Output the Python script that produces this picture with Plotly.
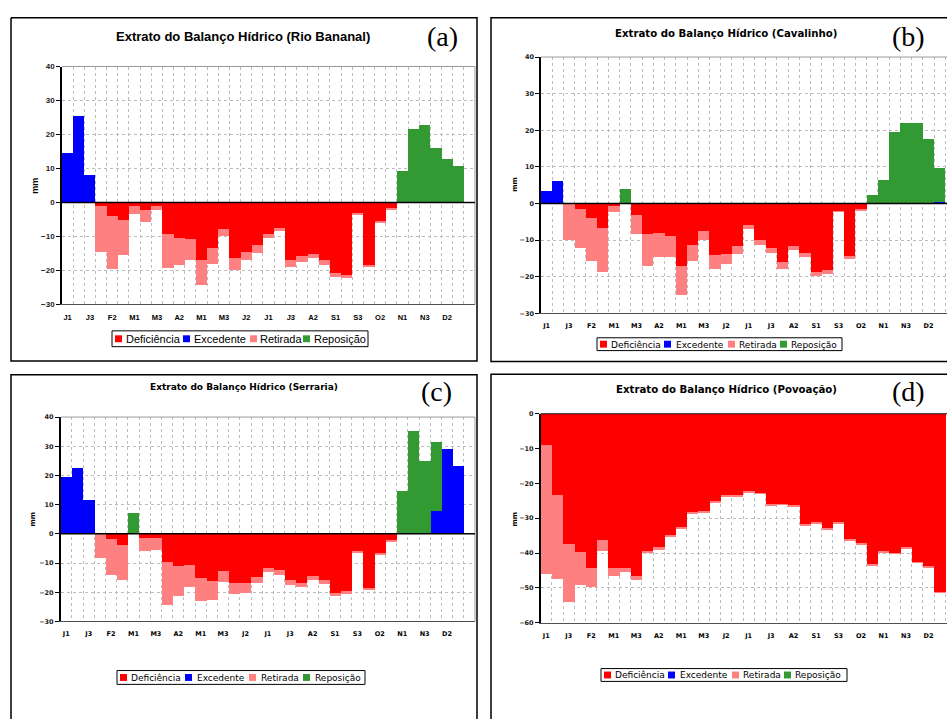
import plotly.graph_objects as go

W, H = 947, 719

# ---------------- data ----------------
categories = ["J1", "J2", "J3", "F1", "F2", "F3", "M1", "M2", "M3", "A1", "A2", "A3",
              "M1", "M2", "M3", "J1", "J2", "J3", "J1", "J2", "J3", "A1", "A2", "A3",
              "S1", "S2", "S3", "O1", "O2", "O3", "N1", "N2", "N3", "D1", "D2", "D3"]
tick_labels = ["J1", "J3", "F2", "M1", "M3", "A2", "M1", "M3", "J2",
               "J1", "J3", "A2", "S1", "S3", "O2", "N1", "N3", "D2"]
series_names = ["Deficiência", "Excedente", "Retirada", "Reposição"]

# (a) Rio Bananal
def_a = [0, 0, 0, -0.8, -3.9, -4.9, -0.8, -2.1, -0.8, -9.0, -10.2, -10.7,
         -16.8, -13.3, -7.7, -16.1, -14.3, -12.3, -9.1, -7.4, -16.8, -15.7, -15.0, -16.9,
         -20.6, -21.2, -3.0, -18.2, -5.3, -1.6, 0, 0, 0, 0, 0, 0]
exc_a = [14.6, 25.5, 8.3, 0, 0, 0, 0, 0, 0, 0, 0, 0,
         0, 0, 0, 0, 0, 0, 0, 0, 0, 0, 0, 0,
         0, 0, 0, 0, 0, 0, 0, 0, 0, 0, 0, 0]
ret_a = [0, 0, 0, -13.7, -15.4, -10.3, -2.4, -3.5, -1.3, -10.1, -8.1, -6.0,
         -7.3, -4.6, -2.1, -3.5, -2.6, -2.3, -1.3, -0.9, -1.9, -1.7, -1.2, -1.2,
         -1.1, -0.8, -0.5, -0.6, -0.5, -0.4, 0, 0, 0, 0, 0, 0]
rep_a = [0, 0, 0, 0, 0, 0, 0, 0, 0, 0, 0, 0,
         0, 0, 0, 0, 0, 0, 0, 0, 0, 0, 0, 0,
         0, 0, 0, 0, 0, 0, 9.4, 21.9, 22.9, 16.2, 13.0, 11.0]

# (b) Cavalinho
def_b = [0, 0, 0, -1.5, -3.9, -6.7, -0.6, 0, -3.2, -8.2, -8.1, -9.0,
         -17.0, -11.4, -7.5, -14.2, -13.7, -11.6, -5.8, -10.0, -12.1, -16.1, -11.6, -13.5,
         -18.6, -18.2, -2.1, -14.3, -1.5, 0, 0, 0, 0, 0, 0, 0]
exc_b = [3.4, 6.2, 0, 0, 0, 0, 0, 0, 0, 0, 0, 0,
         0, 0, 0, 0, 0, 0, 0, 0, 0, 0, 0, 0,
         0, 0, 0, 0, 0, 0, 0, 0, 0, 0, 0, 0.5]
ret_b = [0, 0, -9.9, -10.6, -11.9, -12.0, -1.7, 0, -5.2, -9.0, -6.5, -5.6,
         -8.0, -4.2, -2.5, -3.7, -2.7, -2.1, -1.2, -1.2, -1.5, -1.8, -1.2, -1.1,
         -1.3, -1.1, -0.2, -0.8, -0.6, 0, 0, 0, 0, 0, 0, 0]
rep_b = [0, 0, 0, 0, 0, 0, 0, 4.0, 0, 0, 0, 0,
         0, 0, 0, 0, 0, 0, 0, 0, 0, 0, 0, 0,
         0, 0, 0, 0, 0, 2.3, 6.4, 19.4, 21.9, 21.9, 17.6, 9.1]

# (c) Serraria
def_c = [0, 0, 0, 0, -1.9, -3.8, 0, -1.4, -1.4, -9.5, -11.0, -10.8,
         -15.2, -16.2, -12.6, -16.8, -17.0, -14.7, -11.6, -12.5, -15.7, -16.8, -14.5, -15.9,
         -20.3, -19.6, -6.1, -18.4, -6.9, -2.4, 0, 0, 0, 0, 0, 0]
exc_c = [19.3, 22.7, 11.5, 0, 0, 0, 0, 0, 0, 0, 0, 0,
         0, 0, 0, 0, 0, 0, 0, 0, 0, 0, 0, 0,
         0, 0, 0, 0, 0, 0, 0, 0, 0, 7.8, 28.9, 23.2]
ret_c = [0, 0, 0, -8.2, -12.2, -12.0, 0, -4.5, -4.0, -15.0, -10.4, -7.5,
         -7.8, -6.3, -4.0, -3.9, -3.4, -2.1, -1.6, -1.7, -1.7, -1.4, -1.2, -1.3,
         -1.1, -0.9, -0.4, -0.8, -0.4, -0.2, 0, 0, 0, 0, 0, 0]
rep_c = [0, 0, 0, 0, 0, 0, 7.0, 0, 0, 0, 0, 0,
         0, 0, 0, 0, 0, 0, 0, 0, 0, 0, 0, 0,
         0, 0, 0, 0, 0, 0, 14.8, 35.2, 25.0, 23.7, 0, 0]

# (d) Povoação
def_d = [-8.8, -23.1, -37.2, -39.5, -44.0, -36.1, -44.0, -44.0, -46.5, -39.2, -38.4, -34.9,
         -32.5, -28.3, -27.8, -25.2, -23.4, -23.4, -22.3, -22.7, -26.0, -25.8, -26.3, -31.8,
         -31.1, -32.9, -31.1, -36.1, -37.1, -43.2, -39.5, -39.9, -38.3, -42.5, -43.7, -51.1]
exc_d = [0] * 36
ret_d = [-37.0, -24.2, -16.8, -9.4, -5.6, -3.1, -2.3, -1.4, -1.2, -0.7, -0.5, -0.4,
         -0.3, -0.4, -0.4, -0.4, -0.5, -0.4, -0.2, -0.2, -0.2, -0.2, -0.3, -0.3,
         -0.2, -0.2, -0.2, -0.2, -0.2, -0.2, -0.2, -0.2, -0.2, -0.15, -0.2, -0.2]
rep_d = [0] * 36

titles = ["Extrato do Balanço Hídrico (Rio Bananal)",
          "Extrato do Balanço Hídrico (Cavalinho)",
          "Extrato do Balanço Hídrico (Serraria)",
          "Extrato do Balanço Hídrico (Povoação)"]
panel_tags = ["(a)", "(b)", "(c)", "(d)"]

# ---------------- styling ----------------
colors = ["#FF0000", "#0000FF", "#FF8080", "#339933"]
ARIAL = "Liberation Sans, Arial, sans-serif"
WIDE = "DejaVu Sans, Verdana, sans-serif"
SERIF = "Liberation Serif, Times New Roman, serif"
GRID = "#bdbdbd"


def px(v):
    return v / W


def py(v):
    return 1 - v / H


panels = [
    dict(data=(def_a, exc_a, ret_a, rep_a), dx=(62, 475), dy=(63.3, 304.3), yr=(-30, 40), xr=(-0.5, 36.5),
         font=ARIAL, tick=7.5, ytick=8, title=(243, 33, 13), tag=(442, 33), mm=(35, 184, 9),
         frame=[(11, 14), (477, 14), (477, 361.5), (11, 361.5), (11, 14)],
         leg=(112, 331, 368, 347), legfont=11, legoff=[(3, 12), (71, 80), (138, 146), (191, 200)],
         right=True),
    dict(data=(def_b, exc_b, ret_b, rep_b), dx=(541, 947), dy=(53.7, 313.3), yr=(-30, 40), xr=(-0.5, 35.65),
         font=WIDE, tick=6.5, ytick=6.5, title=(726, 30, 10.2), tag=(908, 33), mm=(515, 183, 7),
         frame=[(960, 14), (491, 14), (491, 362), (960, 362)],
         leg=(597, 338, 842, 351), legfont=9, legoff=[(3, 12), (67, 77), (131, 140), (183, 192)],
         right=False),
    dict(data=(def_c, exc_c, ret_c, rep_c), dx=(60.7, 475), dy=(418.3, 625.3), yr=(-30, 40), xr=(-0.5, 36.5),
         font=WIDE, tick=6.5, ytick=6.5, title=(244, 388, 9), tag=(436, 392), mm=(33, 522, 7),
         frame=[(11, 730), (11, 375.5), (477, 375.5), (477, 730)],
         leg=(117, 675, 365, 689), legfont=9, legoff=[(3, 12), (68, 78), (132, 142), (186, 196)],
         right=True),
    dict(data=(def_d, exc_d, ret_d, rep_d), dx=(540.7, 947), dy=(414.7, 626.7), yr=(-60, 0), xr=(-0.5, 35.65),
         font=WIDE, tick=6.5, ytick=6.5, title=(726, 390, 10.2), tag=(908, 392), mm=(515, 522, 7),
         frame=[(491, 730), (491, 375), (960, 375)],
         leg=(601, 673, 847, 686), legfont=9, legoff=[(3, 12), (67, 77), (131, 140), (183, 192)],
         right=False),
]

xs = list(range(len(categories)))
tickpos = xs[::2]

fig = go.Figure()
shapes = []
annotations = []
layout = dict(width=W, height=H, margin=dict(l=0, r=0, t=0, b=0),
              paper_bgcolor="white", plot_bgcolor="white",
              barmode="relative", bargap=0, showlegend=False)

for i, p in enumerate(panels):
    n = "" if i == 0 else str(i + 1)
    xa, ya = "x" + n, "y" + n
    for s, vals in enumerate(p["data"]):
        fig.add_trace(go.Bar(x=xs, y=vals, name=series_names[s], xaxis=xa, yaxis=ya,
                             marker=dict(color=colors[s], line=dict(width=0)),
                             hovertemplate="%{y}<extra>" + series_names[s] + "</extra>"))
    layout["xaxis" + n] = dict(
        domain=[px(p["dx"][0]), px(p["dx"][1])], range=list(p["xr"]), anchor=ya,
        tickmode="array", tickvals=tickpos, ticktext=tick_labels,
        tickfont=dict(family=p["font"], size=p["tick"], color="black", weight="bold"),
        showgrid=False, zeroline=False, ticks="", ticklabelstandoff=6,
        showline=True, linecolor="#505050", linewidth=1,
        minor=dict(tickmode="array", tickvals=[v + 0.5 for v in xs], showgrid=True,
                   gridcolor=GRID, griddash="3px,3px", gridwidth=1, ticks=""),
        fixedrange=True)
    layout["yaxis" + n] = dict(
        domain=[py(p["dy"][1]), py(p["dy"][0])], range=list(p["yr"]), anchor=xa,
        dtick=10, tick0=0, showgrid=True, gridcolor=GRID, griddash="3px,3px", gridwidth=1,
        zeroline=False, showline=True, linecolor="black", linewidth=1.5,
        ticks="outside", ticklen=4, tickcolor="black", tickwidth=1,
        tickfont=dict(family=p["font"], size=p["ytick"], color="#222", weight="bold"),
        layer="above traces", fixedrange=True)

    # plot-area border (top, and right where visible)
    shapes.append(dict(type="line", xref=xa + " domain", yref=ya + " domain", x0=0, x1=1, y0=1, y1=1,
                       line=dict(color="#9a9a9a", width=1), layer="above"))
    if p["right"]:
        shapes.append(dict(type="line", xref=xa + " domain", yref=ya + " domain", x0=1, x1=1, y0=0, y1=1,
                           line=dict(color="#9a9a9a", width=1), layer="above"))
    # zero line
    shapes.append(dict(type="line", xref=xa + " domain", yref=ya, x0=0, x1=1, y0=0, y1=0,
                       line=dict(color="black", width=1.5), layer="above"))
    # outer panel frame
    path = "M " + " L ".join(f"{px(a):.5f},{py(b):.5f}" for a, b in p["frame"])
    shapes.append(dict(type="path", xref="paper", yref="paper", path=path,
                       line=dict(color="black", width=1.5)))

    # titles
    tx, ty, ts = p["title"]
    annotations.append(dict(text=titles[i], x=px(tx), y=py(ty), xref="paper", yref="paper",
                            showarrow=False, xanchor="center", yanchor="middle",
                            font=dict(family=p["font"], size=ts, color="black", weight="bold")))
    gx, gy = p["tag"]
    annotations.append(dict(text=panel_tags[i], x=px(gx), y=py(gy), xref="paper", yref="paper",
                            showarrow=False, xanchor="center", yanchor="middle",
                            font=dict(family=SERIF, size=28, color="black")))
    mx, my, ms = p["mm"]
    annotations.append(dict(text="mm", x=px(mx), y=py(my), xref="paper", yref="paper",
                            showarrow=False, xanchor="center", yanchor="middle", textangle=-90,
                            font=dict(family=p["font"], size=ms, color="black", weight="bold")))

    # legend box
    lx0, ly0, lx1, ly1 = p["leg"]
    shapes.append(dict(type="rect", xref="paper", yref="paper", x0=px(lx0), x1=px(lx1),
                       y0=py(ly1), y1=py(ly0), line=dict(color="black", width=1),
                       fillcolor="white"))
    cy = (ly0 + ly1) / 2
    for s, (so, to) in enumerate(p["legoff"]):
        shapes.append(dict(type="rect", xref="paper", yref="paper",
                           x0=px(lx0 + so), x1=px(lx0 + so + 7), y0=py(cy + 3.5), y1=py(cy - 3.5),
                           line=dict(width=0), fillcolor=colors[s]))
        annotations.append(dict(text=series_names[s], x=px(lx0 + to), y=py(cy + 0.5),
                                xref="paper", yref="paper", showarrow=False,
                                xanchor="left", yanchor="middle",
                                font=dict(family=p["font"], size=p["legfont"], color="black")))

layout["shapes"] = shapes
layout["annotations"] = annotations
fig.update_layout(**layout)
fig.write_html("out.html", config={"displayModeBar": False},
               post_script="document.body.style.margin='0';document.body.style.padding='0';"
                           "document.documentElement.style.overflow='hidden';")
